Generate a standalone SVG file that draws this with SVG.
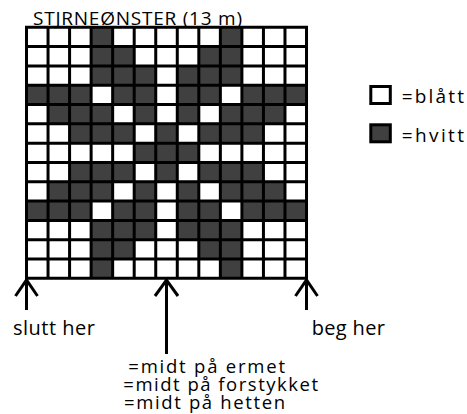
<svg xmlns="http://www.w3.org/2000/svg" width="467" height="414" viewBox="0 0 467 414">
<style>
text{font-family:"Open Sans","Liberation Sans",sans-serif;fill:#000}
.dk{fill:#404040}
.grid{fill:none;stroke:#000;stroke-width:3;stroke-linecap:square}
.arr{fill:none;stroke:#000;stroke-width:3}
.t20{font-size:20px}
.t18{font-size:18.5px}
.t19{font-size:19px}
</style>
<rect width="467" height="414" fill="#fff"/>
<text id="title" x="33" y="25" font-size="19" textLength="209" lengthAdjust="spacing">STJRNEØNSTER (13 m)</text>
<g id="chart">
<g id="cells">
<rect class="dk" x="91.12" y="27.3" width="21.54" height="19.4"/>
<rect class="dk" x="220.36" y="27.3" width="21.54" height="19.4"/>
<rect class="dk" x="91.12" y="46.61" width="43.08" height="19.4"/>
<rect class="dk" x="198.82" y="46.61" width="43.08" height="19.4"/>
<rect class="dk" x="91.12" y="65.92" width="64.62" height="19.4"/>
<rect class="dk" x="177.28" y="65.92" width="64.62" height="19.4"/>
<rect class="dk" x="26.5" y="85.23" width="64.62" height="19.4"/>
<rect class="dk" x="112.66" y="85.23" width="43.08" height="19.4"/>
<rect class="dk" x="177.28" y="85.23" width="43.08" height="19.4"/>
<rect class="dk" x="241.9" y="85.23" width="64.62" height="19.4"/>
<rect class="dk" x="48.04" y="104.54" width="64.62" height="19.4"/>
<rect class="dk" x="134.2" y="104.54" width="21.54" height="19.4"/>
<rect class="dk" x="177.28" y="104.54" width="21.54" height="19.4"/>
<rect class="dk" x="220.36" y="104.54" width="64.62" height="19.4"/>
<rect class="dk" x="69.58" y="123.85" width="64.62" height="19.4"/>
<rect class="dk" x="155.74" y="123.85" width="21.54" height="19.4"/>
<rect class="dk" x="198.82" y="123.85" width="64.62" height="19.4"/>
<rect class="dk" x="134.2" y="143.16" width="64.62" height="19.4"/>
<rect class="dk" x="69.58" y="162.47" width="64.62" height="19.4"/>
<rect class="dk" x="155.74" y="162.47" width="21.54" height="19.4"/>
<rect class="dk" x="198.82" y="162.47" width="64.62" height="19.4"/>
<rect class="dk" x="48.04" y="181.78" width="64.62" height="19.4"/>
<rect class="dk" x="134.2" y="181.78" width="21.54" height="19.4"/>
<rect class="dk" x="177.28" y="181.78" width="21.54" height="19.4"/>
<rect class="dk" x="220.36" y="181.78" width="64.62" height="19.4"/>
<rect class="dk" x="26.5" y="201.09" width="64.62" height="19.4"/>
<rect class="dk" x="112.66" y="201.09" width="43.08" height="19.4"/>
<rect class="dk" x="177.28" y="201.09" width="43.08" height="19.4"/>
<rect class="dk" x="241.9" y="201.09" width="64.62" height="19.4"/>
<rect class="dk" x="91.12" y="220.4" width="64.62" height="19.4"/>
<rect class="dk" x="177.28" y="220.4" width="64.62" height="19.4"/>
<rect class="dk" x="91.12" y="239.71" width="43.08" height="19.4"/>
<rect class="dk" x="198.82" y="239.71" width="43.08" height="19.4"/>
<rect class="dk" x="91.12" y="259.02" width="21.54" height="19.31"/>
<rect class="dk" x="220.36" y="259.02" width="21.54" height="19.31"/>
</g>
<path class="grid" d="M26.5 27.3V278.33M48.04 27.3V278.33M69.58 27.3V278.33M91.12 27.3V278.33M112.66 27.3V278.33M134.2 27.3V278.33M155.74 27.3V278.33M177.28 27.3V278.33M198.82 27.3V278.33M220.36 27.3V278.33M241.9 27.3V278.33M263.44 27.3V278.33M284.98 27.3V278.33M306.52 27.3V278.33M26.5 27.3H306.52M26.5 46.61H306.52M26.5 65.92H306.52M26.5 85.23H306.52M26.5 104.54H306.52M26.5 123.85H306.52M26.5 143.16H306.52M26.5 162.47H306.52M26.5 181.78H306.52M26.5 201.09H306.52M26.5 220.4H306.52M26.5 239.71H306.52M26.5 259.02H306.52M26.5 278.33H306.52"/>
</g>
<g id="legend-blatt">
<rect x="370.8" y="86.5" width="19.5" height="17" fill="#fff" stroke="#000" stroke-width="3"/>
<text class="t19" x="401.7" y="103.3" textLength="62.3" lengthAdjust="spacing">=blått</text>
</g>
<g id="legend-hvitt">
<rect x="370.8" y="124.8" width="19.5" height="17" class="dk" stroke="#000" stroke-width="3"/>
<text class="t19" x="401.7" y="141.7" textLength="62.3" lengthAdjust="spacing">=hvitt</text>
</g>
<g id="connectors">
<path class="arr" d="M26.5 280V310M15.5 296L26.5 280L37.5 296"/>
<path class="arr" d="M166.5 280V354M155 296L166.5 280L178 296"/>
<path class="arr" d="M306.5 280V310M295.5 296L306.5 280L317.5 296"/>
</g>
<g id="label-slutt"><text class="t20" x="13" y="335" textLength="82" lengthAdjust="spacing">slutt her</text></g>
<g id="label-beg"><text class="t20" x="311.7" y="335" textLength="73.3" lengthAdjust="spacing">beg her</text></g>
<g id="label-midt">
<text class="t18" x="128.3" y="373" textLength="156.7" lengthAdjust="spacing">=midt på ermet</text>
<text class="t18" x="123.3" y="391" textLength="194.7" lengthAdjust="spacing">=midt på forstykket</text>
<text class="t18" x="124" y="409" textLength="161" lengthAdjust="spacing">=midt på hetten</text>
</g>
</svg>
